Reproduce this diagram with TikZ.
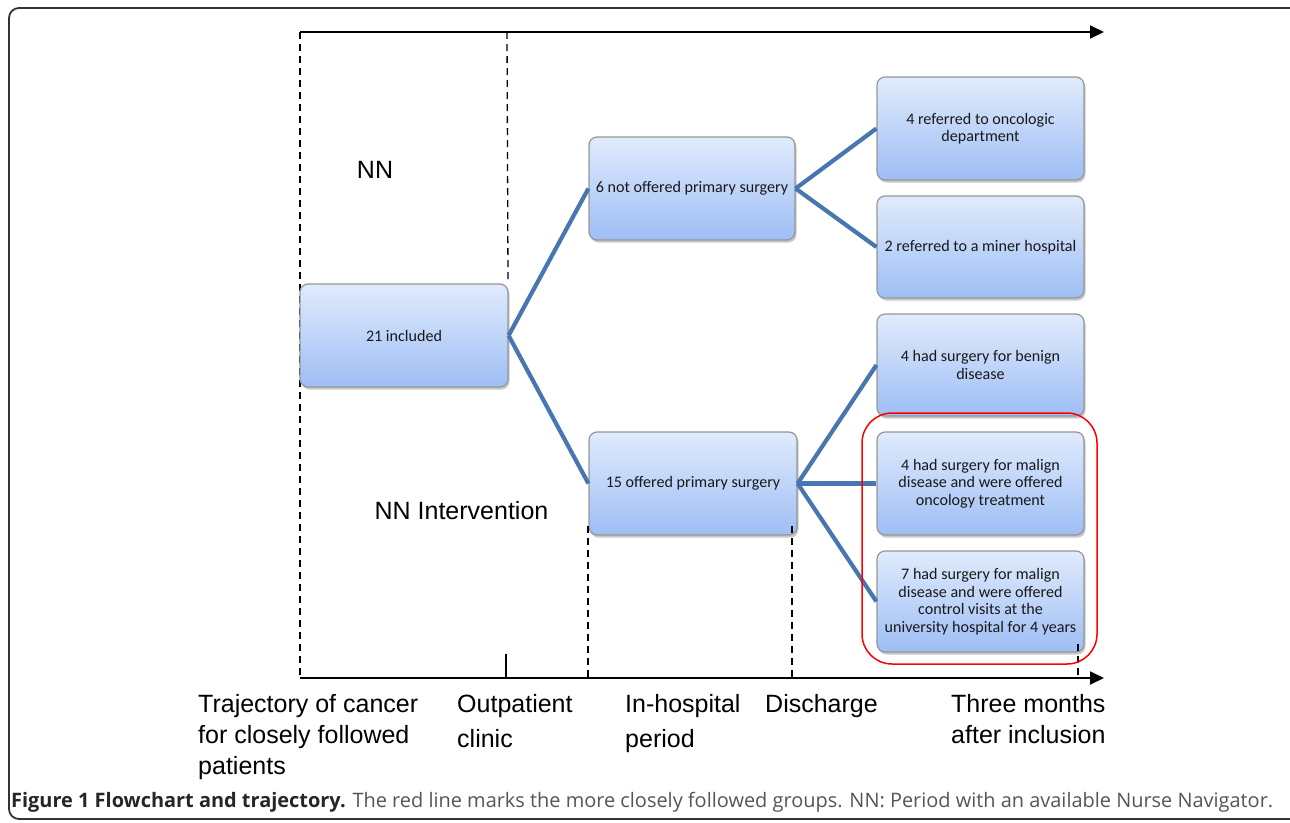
\documentclass[tikz,border=0pt]{standalone}
\usepackage{fontspec}
\setmainfont{Liberation Sans}
\newfontfamily\boxfont{Carlito}
\newfontfamily\capfont{Open Sans}
\usetikzlibrary{arrows.meta,shadows}

\definecolor{linkblue}{RGB}{72,118,176}
\definecolor{boxtop}{RGB}{224,235,252}
\definecolor{boxbot}{RGB}{158,190,245}
\definecolor{boxedge}{RGB}{150,150,150}
\definecolor{capgray}{RGB}{85,85,85}

\begin{document}
\begin{tikzpicture}[x=1pt,y=-1pt,
 flowbox/.style={draw=boxedge, line width=1.2pt, rounded corners=8pt,
   top color=boxtop, bottom color=boxbot, inner sep=0pt, align=center,
   font=\boxfont\fontsize{16.1}{17.5}\selectfont, text=black!90,
   minimum width=207pt, minimum height=103pt,
   drop shadow={shadow xshift=1.5pt, shadow yshift=-2.5pt, opacity=0.3, fill=black!70}},
 link/.style={draw=linkblue, line width=4.2pt},
 axisline/.style={line width=1.8pt, -{Triangle[length=14pt,width=13pt]}},
 guide/.style={line width=1.3pt, dash pattern=on 7pt off 5pt},
 lbl/.style={font=\fontsize{25}{31}\selectfont, align=left, anchor=base west, inner sep=0pt}
]
\useasboundingbox (0,0) rectangle (1290,822);
\clip (0,0) rectangle (1290,822);

% outer frame
\draw[line width=1.8pt, draw=black!80, rounded corners=10pt] (9,8) rectangle (1300,819);

% coordinates
\coordinate (tl) at (300,32);
\coordinate (tr) at (1104,32);
\coordinate (bl) at (300,678);
\coordinate (br) at (1104,678);
\coordinate (g2a) at (507,32);
\coordinate (g2b) at (508,280);
\coordinate (g3a) at (588,526);
\coordinate (g3b) at (588,678);
\coordinate (g4a) at (792,526);
\coordinate (g4b) at (792,678);
\coordinate (g5a) at (1078,644);
\coordinate (g5b) at (1078,678);
\coordinate (ticka) at (506,654);
\coordinate (tickb) at (506,678);

% guides
\draw[guide] (tl) -- (bl);
\draw[guide] (g2a) -- (g2b);

% axes
\draw[axisline] (tl) -- (tr);
\draw[axisline] (bl) -- (br);
\draw[line width=1.5pt] (ticka) -- (tickb);

% boxes
\node[flowbox, minimum width=208pt] (inc) at (404,335.5) {21 included};
\node[flowbox, minimum width=206pt] (nop) at (692,188.5) {6 not offered primary surgery};
\node[flowbox, minimum width=208pt] (off) at (693,483.5) {15 offered primary surgery};
\node[flowbox] (r1) at (980.5,128.5) {4 referred to oncologic\\department};
\node[flowbox, minimum height=102pt] (r2) at (980.5,247) {2 referred to a miner hospital};
\node[flowbox, minimum height=102pt] (r3) at (980.5,365) {4 had surgery for benign\\disease};
\node[flowbox] (r4) at (980.5,483.5) {4 had surgery for malign\\disease and were offered\\oncology treatment};
\node[flowbox, minimum height=101pt] (r5) at (980.5,601.5) {7 had surgery for malign\\disease and were offered\\control visits at the\\university hospital for 4 years};

% lower guides (over boxes)
\draw[guide] (g3a) -- (g3b);
\draw[guide] (g4a) -- (g4b);
\draw[guide] (g5a) -- (g5b);

% connectors
\draw[link] (inc.east) -- (nop.west);
\draw[link] (inc.east) -- (off.west);
\draw[link] (nop.east) -- (r1.west);
\draw[link] (nop.east) -- (r2.west);
\draw[link] (off.east) -- (r3.west);
\draw[link] (off.east) -- (r4.west);
\draw[link] (off.east) -- (r5.west);

% red group
\draw[red, line width=1.5pt, rounded corners=30pt] (862,413) rectangle (1097,664);

% period labels
\node[font=\fontsize{25}{31}\selectfont, inner sep=0pt] (nn) at (375,170) {NN};
\node[font=\fontsize{25}{31}\selectfont, inner sep=0pt] (nni) at (461.5,511) {NN Intervention};

% axis labels (anchor = baseline of last line)
\node[lbl] (l1) at (198,774) {Trajectory of cancer\\for closely followed\\patients};
\node[lbl, font=\fontsize{25}{35}\selectfont] (l2) at (457,747) {Outpatient\\clinic};
\node[lbl, font=\fontsize{25}{35}\selectfont] (l3) at (625,747) {In-hospital\\period};
\node[lbl] (l4) at (765,712) {Discharge};
\node[lbl] (l5) at (951,743) {Three months\\after inclusion};

% caption
\node[anchor=base west, inner sep=0pt] (cap) at (11,807) {\resizebox{1262pt}{!}{\capfont\fontsize{17}{20}\selectfont\textbf{\color{black!85}Figure 1 Flowchart and trajectory.} {\color{capgray}The red line marks the more closely followed groups. NN: Period with an available Nurse Navigator.}}};
\end{tikzpicture}
\end{document}
